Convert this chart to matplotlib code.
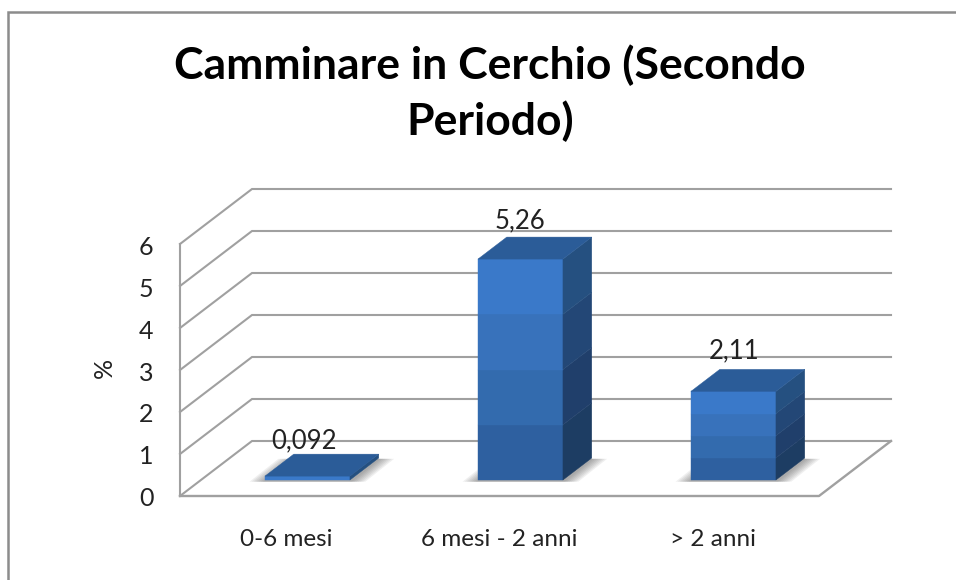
import matplotlib
matplotlib.use("Agg")
import matplotlib.pyplot as plt
from matplotlib.lines import Line2D
from matplotlib.patches import Polygon

plt.rcParams["font.family"] = ["Lato", "DejaVu Sans"]

# data
title = "Camminare in Cerchio (Secondo\nPeriodo)"
categories = ["0-6 mesi", "6 mesi - 2 anni", "> 2 anni"]
values = [0.092, 5.26, 2.11]
value_labels = ["0,092", "5,26", "2,11"]
y_ticks = [0, 1, 2, 3, 4, 5, 6]

W, H = 956, 580
# one category is 213 px wide, one y unit is 42 px, x=-0.5 sits at px 180, y=0 at px 496
XU, YU = 213.0, 42.0

fig = plt.figure(figsize=(W / 100, H / 100), dpi=100, facecolor="white")
ax = fig.add_axes([0, 0, 1, 1])
ax.set_xlim(-0.5 - 180 / XU, -0.5 + (W - 180) / XU)
ax.set_ylim(-(H - 496) / YU, 496 / YU)
ax.axis("off")

# depth of the 3d box
depth_x = 72 / XU
depth_y = 55 / YU
x_min, x_max = -0.5, 2.5
grid = "#a0a0a0"

# frame of the chart is cut off at right and bottom
fig.add_artist(Line2D([8 / W, 8 / W, 1], [0, 1 - 12 / H, 1 - 12 / H], transform=fig.transFigure,
                      color="#8c8c8c", lw=1.8, solid_joinstyle="miter"))

# walls and floor
for t in y_ticks:
    ax.plot([x_min, x_min + depth_x, x_max + depth_x], [t, t + depth_y, t + depth_y], color=grid, lw=1.5,
            solid_joinstyle="miter", zorder=1)
ax.plot([x_min, x_min], [0, y_ticks[-1]], color=grid, lw=1.5, zorder=1)
ax.plot([x_min, x_max, x_max + depth_x], [0, 0, depth_y], color=grid, lw=1.7, zorder=1)

# box sits in the middle of the floor depth
bar_w = 85 / XU
gap = 16 / 55
box = 22 / 55
front_bands = ["#2e60a0", "#336bae", "#3872bb", "#3a79c9"]
side_bands = ["#1d3d63", "#203f6b", "#234776", "#255080"]
top_color = "#2b5c98"
label_shift = [-3, 0, 1]
label_lift = [35, 38, 41]

for i, v in enumerate(values):
    x0 = i - bar_w / 2 + depth_x * gap
    x1 = x0 + bar_w
    y0 = depth_y * gap
    dx = depth_x * box
    dy = depth_y * box

    # soft shadow on the floor
    for s in range(7):
        pad = (7 - s) * 2.2 / XU
        ax.add_patch(Polygon([(x0 - pad, y0 - 0.04), (x1 + pad, y0 - 0.04),
                              (x1 + dx + pad, y0 + dy - 0.02), (x0 + dx - pad, y0 + dy - 0.02)],
                             fc="#555555", ec="none", alpha=0.09, zorder=2))

    # thin bars only show the brightest band
    bands = front_bands if v > 1 else front_bands[-1:]
    sides = side_bands if v > 1 else side_bands[-1:]
    n = len(bands)
    for b in range(n):
        lo = y0 + v * b / n
        hi = y0 + v * (b + 1) / n
        ax.add_patch(Polygon([(x0, lo), (x1, lo), (x1, hi), (x0, hi)], fc=bands[b], ec=bands[b], lw=0.3, zorder=3))
        ax.add_patch(Polygon([(x1, lo), (x1 + dx, lo + dy), (x1 + dx, hi + dy), (x1, hi)],
                             fc=sides[b], ec=sides[b], lw=0.3, zorder=3))
    ax.add_patch(Polygon([(x0, y0 + v), (x1, y0 + v), (x1 + dx, y0 + v + dy), (x0 + dx, y0 + v + dy)],
                         fc=top_color, ec=top_color, lw=0.3, zorder=3))

    ax.text((x0 + x1) / 2 + label_shift[i] / XU, y0 + v + label_lift[i] / YU, value_labels[i], ha="center",
            va="center", fontsize=18.5, color="#222222", zorder=4)

# axis text
for t in y_ticks:
    ax.text(x_min - 34 / XU, t - 3 / YU, str(t), ha="center", va="center", fontsize=18, color="#222222")
for i, c in enumerate(categories):
    ax.text(i, -43 / YU, c, ha="center", va="center", fontsize=17.5, color="#222222")
ax.text(x_min - 76 / XU, 128 / YU, "%", rotation=90, ha="center", va="center", fontsize=18, color="#222222")

fig.text(490 / W, 1 - 93 / H, title, ha="center", va="center", fontsize=32, fontweight="bold", color="black",
         linespacing=1.42)

fig.savefig("out.png", dpi=100)
